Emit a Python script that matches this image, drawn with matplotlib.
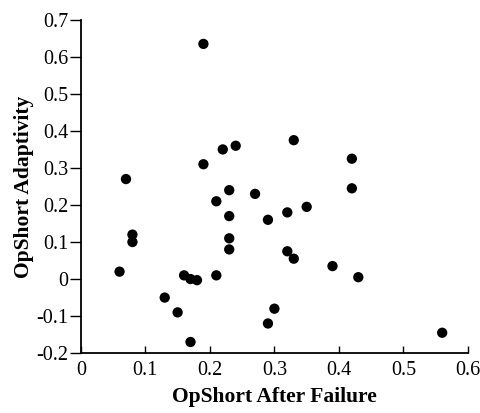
import matplotlib
matplotlib.use('Agg')
import matplotlib.pyplot as plt

# OpShort After Failure vs OpShort Adaptivity
after_failure = [0.19, 0.22, 0.24, 0.19, 0.07, 0.23, 0.27, 0.21, 0.23, 0.29,
                 0.08, 0.08, 0.23, 0.23, 0.06, 0.16, 0.17, 0.18, 0.21, 0.13,
                 0.15, 0.17, 0.30, 0.29, 0.33, 0.42, 0.42, 0.32, 0.35, 0.32,
                 0.33, 0.39, 0.43, 0.56]
adaptivity = [0.635, 0.35, 0.36, 0.31, 0.27, 0.24, 0.23, 0.21, 0.17, 0.16,
              0.12, 0.10, 0.11, 0.08, 0.02, 0.01, 0.0, -0.003, 0.01, -0.05,
              -0.09, -0.17, -0.08, -0.12, 0.375, 0.325, 0.245, 0.18, 0.195, 0.075,
              0.055, 0.035, 0.005, -0.145]

xticks = [0, 0.1, 0.2, 0.3, 0.4, 0.5, 0.6]
yticks = [-0.2, -0.1, 0, 0.1, 0.2, 0.3, 0.4, 0.5, 0.6, 0.7]

plt.rcParams['font.family'] = ['Liberation Serif', 'DejaVu Serif']

fig = plt.figure(figsize=(4.81, 4.13), dpi=100)
ax = fig.add_axes([0.168, 0.145, 0.805, 0.807])
ax.scatter(after_failure, adaptivity, s=55, c='black', edgecolors='none', zorder=3)

ax.set_xlim(0, 0.6)
ax.set_ylim(-0.2, 0.7)
ax.set_xticks(xticks)
ax.set_xticklabels(['0', '0.1', '0.2', '0.3', '0.4', '0.5', '0.6'])
ax.set_yticks(yticks)
ax.set_yticklabels(['-0.2', '-0.1', '0', '0.1', '0.2', '0.3', '0.4', '0.5', '0.6', '0.7'])

ax.spines['top'].set_visible(False)
ax.spines['right'].set_visible(False)
ax.spines['left'].set_linewidth(1.3)
ax.spines['bottom'].set_linewidth(1.3)
ax.tick_params(axis='y', direction='out', length=8, width=1, pad=1, labelsize=14.5)
ax.tick_params(axis='x', direction='in', length=5, width=1, pad=6, labelsize=14.5)

ax.set_xlabel('OpShort After Failure', fontsize=15.5, fontweight='bold', labelpad=5)
ax.set_ylabel('OpShort Adaptivity', fontsize=15.5, fontweight='bold', labelpad=2)

fig.savefig('out.png', dpi=100)
